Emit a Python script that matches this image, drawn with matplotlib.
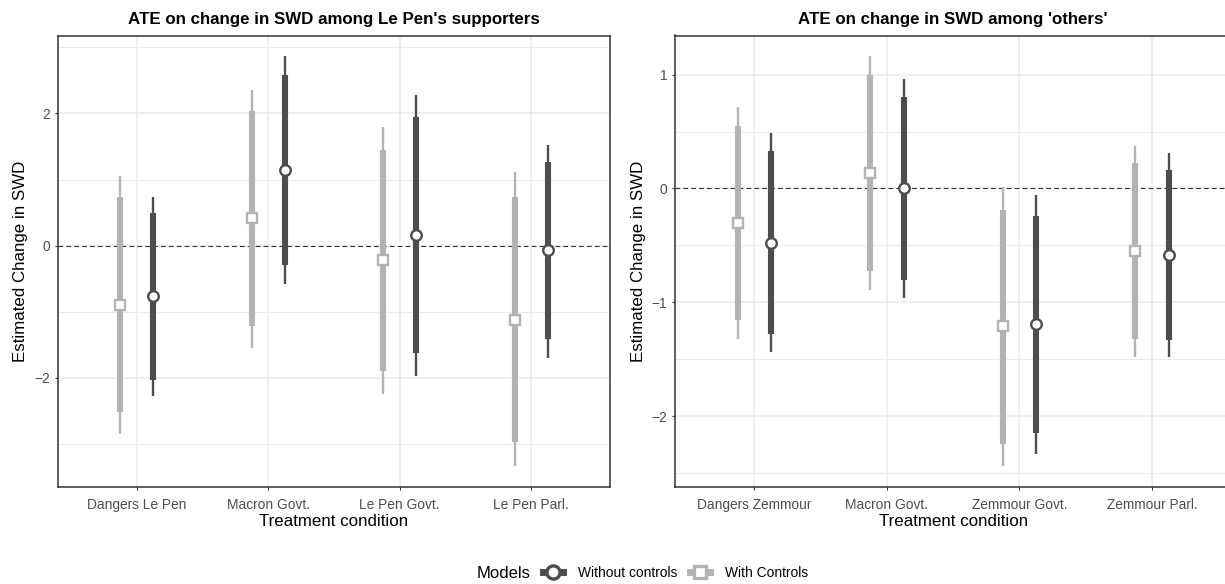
import matplotlib
matplotlib.use("Agg")
import matplotlib.pyplot as plt
from matplotlib.lines import Line2D
from matplotlib.ticker import FixedLocator
import numpy as np

plt.rcParams["font.family"] = ["Liberation Sans", "DejaVu Sans"]

# Le Pen supporters
cats_lp = ["Dangers Le Pen", "Macron Govt.", "Le Pen Govt.", "Le Pen Parl."]
lp_noc_est = [-0.77, 1.15, 0.16, -0.07]
lp_noc_lo90 = [-2.03, -0.30, -1.62, -1.42]
lp_noc_hi90 = [0.49, 2.58, 1.94, 1.27]
lp_noc_lo95 = [-2.27, -0.58, -1.97, -1.70]
lp_noc_hi95 = [0.73, 2.87, 2.28, 1.53]
lp_ctl_est = [-0.90, 0.41, -0.22, -1.12]
lp_ctl_lo90 = [-2.52, -1.22, -1.90, -2.98]
lp_ctl_hi90 = [0.73, 2.03, 1.45, 0.73]
lp_ctl_lo95 = [-2.85, -1.55, -2.24, -3.34]
lp_ctl_hi95 = [1.05, 2.36, 1.79, 1.11]

# 'others'
cats_ot = ["Dangers Zemmour", "Macron Govt.", "Zemmour Govt.", "Zemmour Parl."]
ot_noc_est = [-0.475, 0.0, -1.193, -0.584]
ot_noc_lo90 = [-1.275, -0.807, -2.149, -1.334]
ot_noc_hi90 = [0.328, 0.803, -0.241, 0.164]
ot_noc_lo95 = [-1.437, -0.96, -2.337, -1.481]
ot_noc_hi95 = [0.484, 0.958, -0.053, 0.31]
ot_ctl_est = [-0.302, 0.137, -1.211, -0.549]
ot_ctl_lo90 = [-1.152, -0.725, -2.243, -1.325]
ot_ctl_hi90 = [0.548, 0.996, -0.185, 0.223]
ot_ctl_lo95 = [-1.319, -0.888, -2.44, -1.481]
ot_ctl_hi95 = [0.712, 1.164, 0.014, 0.375]

models = ["Without controls", "With Controls"]

DARK = "#4D4D4D"
LIGHT = "#B3B3B3"
GRID = "#EBEBEB"
FRAME = "#333333"


def draw_model(ax, x, est, lo90, hi90, lo95, hi95, color, marker, ms):
    ax.vlines(x, lo95, hi95, color=color, lw=1.7, zorder=3)
    ax.vlines(x, lo90, hi90, color=color, lw=4.4, zorder=4)
    ax.plot(x, est, ls="none", marker=marker, ms=ms, mfc="white",
            mec=color, mew=1.7, zorder=5)


def panel(ax, cats, noc, ctl, major, minor, title):
    x = np.arange(len(cats))
    draw_model(ax, x - 0.125, *ctl, LIGHT, "s", 6.6)
    draw_model(ax, x + 0.125, *noc, DARK, "o", 7.6)
    ax.axhline(0, color=FRAME, lw=0.8, dashes=[4.2, 2.9], zorder=2)

    lo = min(min(ctl[3]), min(noc[3]))
    hi = max(max(ctl[4]), max(noc[4]))
    pad = (hi - lo) * 0.05
    ax.set_ylim(lo - pad, hi + pad)
    ax.set_xlim(-0.6, len(cats) - 0.4)

    ax.set_xticks(x)
    ax.set_xticklabels(cats)
    ax.yaxis.set_major_locator(FixedLocator(major))
    ax.yaxis.set_minor_locator(FixedLocator(minor))
    ax.grid(True, which="major", color=GRID, lw=1.1, zorder=0)
    ax.grid(True, which="minor", axis="y", color=GRID, lw=0.8, zorder=0)
    ax.set_axisbelow(True)
    ax.tick_params(which="major", length=2.2, width=0.8, color=FRAME,
                   labelcolor=DARK, labelsize=9.9, pad=3.5)
    ax.tick_params(axis="x", pad=6)
    ax.tick_params(which="minor", length=0)
    for s in ax.spines.values():
        s.set_color(FRAME)
        s.set_linewidth(1.1)
    ax.set_title(title, fontsize=12.2, fontweight="bold", pad=8)
    ax.set_xlabel("Treatment condition", fontsize=12.2, labelpad=1.5)
    ax.set_ylabel("Estimated Change in SWD", fontsize=12.2, labelpad=4)


fig = plt.figure(figsize=(12.25, 5.84), dpi=100)
W, H = 1225, 584
ax1 = fig.add_axes([57.7 / W, 1 - 486.7 / H, (610 - 57.7) / W, (486.7 - 35.5) / H])
ax2 = fig.add_axes([675 / W, 1 - 486.7 / H, (1231.5 - 675) / W, (486.7 - 35.5) / H])

panel(ax1, cats_lp,
      (lp_noc_est, lp_noc_lo90, lp_noc_hi90, lp_noc_lo95, lp_noc_hi95),
      (lp_ctl_est, lp_ctl_lo90, lp_ctl_hi90, lp_ctl_lo95, lp_ctl_hi95),
      [-2, 0, 2], [-3, -1, 1, 3],
      "ATE on change in SWD among Le Pen's supporters")
panel(ax2, cats_ot,
      (ot_noc_est, ot_noc_lo90, ot_noc_hi90, ot_noc_lo95, ot_noc_hi95),
      (ot_ctl_est, ot_ctl_lo90, ot_ctl_hi90, ot_ctl_lo95, ot_ctl_hi95),
      [-2, -1, 0, 1], [-2.5, -1.5, -0.5, 0.5],
      "ATE on change in SWD among 'others'")

# legend along the bottom
fig.text(477 / W, 1 - 573 / H, "Models", fontsize=12, va="center", ha="left")
handles = [
    Line2D([], [], color=DARK, lw=5, marker="o", ms=9.5, mfc="white",
           mec=DARK, mew=2.4),
    Line2D([], [], color=LIGHT, lw=5, marker="s", ms=9, mfc="white",
           mec=LIGHT, mew=2.4),
]
fig.legend(handles, models, loc="center left",
           bbox_to_anchor=(543 / W, 1 - 573 / H), ncol=2, frameon=False,
           fontsize=9.9, handlelength=1.45, handletextpad=1.1,
           columnspacing=0.9, borderpad=0, borderaxespad=0)

fig.savefig("out.png", dpi=100)
plt.close(fig)
